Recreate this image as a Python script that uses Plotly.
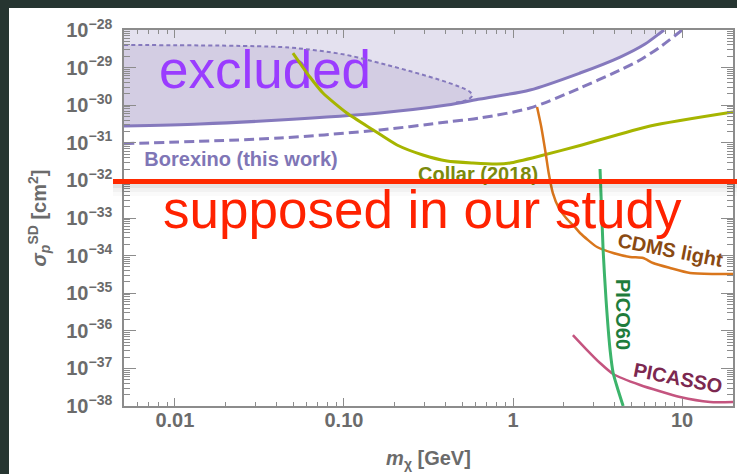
import plotly.graph_objects as go

# ---- data: dark-matter mass [GeV] vs spin-dependent proton cross-section [cm^2] ----
# Borexino (this work), solid limit
borexino_m = [0.005, 0.01406, 0.0418, 0.163, 0.407, 0.638, 1.26, 2.49, 4.30, 6.04, 7.41, 7.82]
borexino_s = [2.80e-31, 3.16e-31, 4.04e-31, 6.21e-31, 1.01e-30, 1.46e-30, 2.54e-30, 7.18e-30,
              1.91e-29, 4.25e-29, 8.32e-29, 1.0e-28]

# Borexino, dashed variant
borexino_dash_m = [0.005, 0.0418, 0.163, 0.407, 0.638, 1.26, 2.49, 4.30, 5.64, 7.41, 10.0]
borexino_dash_s = [9.5e-32, 1.34e-31, 2.19e-31, 3.57e-31, 4.57e-31, 8.43e-31, 2.86e-30, 8.63e-30,
                   1.59e-29, 3.53e-29, 1.0e-28]

# Borexino, dotted (upper edge of the inner region)
borexino_dot_m = [0.005, 0.0418, 0.0656, 0.104, 0.163, 0.256, 0.370, 0.486, 0.557, 0.572, 0.534, 0.442]
borexino_dot_s = [3.99e-29, 3.53e-29, 2.94e-29, 2.16e-29, 1.32e-29, 7.64e-30, 4.68e-30, 3.05e-30,
                  2.24e-30, 1.76e-30, 1.37e-30, 1.15e-30]

# Collar (2018)
collar_m = [0.0499, 0.0629, 0.0751, 0.104, 0.149, 0.206, 0.293, 0.407, 0.579, 0.803, 0.959, 1.44,
            2.49, 6.47, 20.0]
collar_s = [2.44e-29, 5.62e-30, 2.11e-30, 6.21e-31, 2.19e-31, 8.73e-32, 4.74e-32, 3.28e-32, 2.90e-32,
            2.73e-32, 2.90e-32, 4.46e-32, 8.47e-32, 2.80e-31, 6.6e-31]

# CDMS light
cdms_m = [1.387, 1.47, 1.56, 1.63, 1.72, 1.86, 2.06, 2.33, 2.49, 3.14, 3.91, 4.92, 5.88, 6.73, 8.49,
          11.15, 15.24, 20.0]
cdms_s = [8.95e-31, 2.6e-31, 5.2e-32, 1.45e-32, 4.6e-33, 1.9e-33, 1.0e-33, 5.6e-34, 3.99e-34, 1.69e-34,
          1.17e-34, 9.18e-35, 8.63e-35, 6.35e-35, 4.68e-35, 3.44e-35, 3.24e-35, 3.24e-35]

# PICO60
pico_m = [3.27, 3.41, 3.55, 3.75, 3.91, 4.18, 4.48]
pico_s = [2.01e-32, 1.41e-34, 6.59e-36, 3.08e-37, 7.55e-38, 2.67e-38, 1.0e-38]

# PICASSO
picasso_m = [2.26, 2.74, 3.27, 3.91, 5.64, 9.72, 14.66, 20.0]
picasso_s = [7.72e-37, 3.08e-37, 1.39e-37, 7.10e-38, 3.62e-38, 1.73e-38, 1.28e-38, 1.28e-38]

# study assumption
sigma_assumed = 1e-32

# axis ticks
x_tickvals = [0.01, 0.1, 1, 10]
x_ticktext = ["0.01", "0.10", "1", "10"]
y_exponents = list(range(-38, -27))

# ---- styling ----
FONT = "Liberation Sans"
GREY = "#6b6b6b"
AXIS = "#8c8c8c"
PURPLE = "#8579bd"
LIGHT_FILL = "#e4e1ef"
DARK_FILL = "#d3cde3"
COLLAR = "#a6b500"
CDMS = "#d9761c"
PICO = "#3cb46b"
PICASSO = "#c4547f"
RED = "#ff2a00"
BG_DARK = "#263531"

W, H = 737, 474
ML, MR, MT, MB = 124, 4, 30, 68
PW, PH = W - ML - MR, H - MT - MB


def px_x(p):
    return (p - ML) / PW


def px_y(p):
    return (H - MB - p) / PH


fig = go.Figure()

# light excluded region: between the top edge and the solid Borexino limit
fig.add_trace(go.Scatter(x=[0.005, 20], y=[1e-28, 1e-28], mode="lines",
                         line=dict(width=0), hoverinfo="skip"))
fig.add_trace(go.Scatter(x=borexino_m, y=borexino_s, mode="lines",
                         line=dict(width=0, shape="spline", smoothing=0.8),
                         fill="tonexty", fillcolor=LIGHT_FILL, hoverinfo="skip"))

# darker inner region: between the solid limit and the dotted curve
inner_m = [m for m in borexino_m if m <= borexino_dot_m[-1]]
inner_s = borexino_s[:len(inner_m)]
fig.add_trace(go.Scatter(x=inner_m, y=inner_s, mode="lines",
                         line=dict(width=0, shape="spline", smoothing=0.8), hoverinfo="skip"))
fig.add_trace(go.Scatter(x=borexino_dot_m, y=borexino_dot_s, mode="lines",
                         line=dict(width=0, shape="spline"),
                         fill="tonexty", fillcolor=DARK_FILL, hoverinfo="skip"))

# "excluded" sits under the curves
fig.add_trace(go.Scatter(x=[10 ** -1.467], y=[10 ** -29.2], mode="text", text=["excluded"],
                         textfont=dict(family=FONT, size=53, color="#9a3cff"), hoverinfo="skip"))

# Borexino curves
fig.add_trace(go.Scatter(x=borexino_dot_m, y=borexino_dot_s, mode="lines",
                         line=dict(color=PURPLE, width=2, dash="4px,3px", shape="spline")))
fig.add_trace(go.Scatter(x=borexino_dash_m, y=borexino_dash_s, mode="lines",
                         line=dict(color=PURPLE, width=3, dash="10px,5px", shape="spline", smoothing=0.8)))
fig.add_trace(go.Scatter(x=borexino_m, y=borexino_s, mode="lines",
                         line=dict(color=PURPLE, width=3, shape="spline", smoothing=0.8)))

# other experiments
fig.add_trace(go.Scatter(x=collar_m, y=collar_s, mode="lines",
                         line=dict(color=COLLAR, width=3, shape="spline", smoothing=0.6)))
fig.add_trace(go.Scatter(x=cdms_m, y=cdms_s, mode="lines",
                         line=dict(color=CDMS, width=2.5, shape="spline", smoothing=0.6)))
fig.add_trace(go.Scatter(x=picasso_m, y=picasso_s, mode="lines",
                         line=dict(color=PICASSO, width=2.5, shape="spline", smoothing=0.6)))
fig.add_trace(go.Scatter(x=pico_m, y=pico_s, mode="lines",
                         line=dict(color=PICO, width=3, shape="spline", smoothing=0.6)))

# curve labels drawn beneath the red line
fig.add_trace(go.Scatter(x=[10 ** -1.609], y=[10 ** -31.484], mode="text", text=["Borexino (this work)"],
                         textfont=dict(family=FONT, size=20, color="#7f76b6", weight="bold"),
                         hoverinfo="skip"))
fig.add_trace(go.Scatter(x=[10 ** -0.207], y=[10 ** -31.88], mode="text", text=["Collar (2018)"],
                         textfont=dict(family=FONT, size=20, color="#7b8a0c", weight="bold"),
                         hoverinfo="skip"))

annotations = [
    dict(x=0.929, y=-33.851, text="CDMS light", textangle=11, showarrow=False,
         font=dict(family=FONT, size=20, color="#8a4a12", weight="bold")),
    dict(x=0.651, y=-35.553, text="PICO60", textangle=90, showarrow=False,
         font=dict(family=FONT, size=20, color="#1f7c3c", weight="bold")),
    dict(x=0.976, y=-37.255, text="PICASSO", textangle=11, showarrow=False,
         font=dict(family=FONT, size=20, color="#7c2850", weight="bold")),
    dict(x=-0.533, y=-32.787, text="supposed in our study", showarrow=False,
         font=dict(family=FONT, size=53, color="#ff2200")),
]

y_line = px_y(181.5)
shapes = [
    # dark surround
    dict(type="rect", xref="paper", yref="paper", x0=px_x(-20), x1=px_x(757), y0=px_y(8), y1=px_y(-20),
         fillcolor=BG_DARK, line=dict(width=0), layer="above"),
    dict(type="rect", xref="paper", yref="paper", x0=px_x(-20), x1=px_x(9), y0=px_y(494), y1=px_y(-20),
         fillcolor=BG_DARK, line=dict(width=0), layer="above"),
    # soft shadow under the red line
    dict(type="rect", xref="paper", yref="paper", x0=px_x(113), x1=px_x(740), y0=px_y(188),
         y1=px_y(183.5), fillcolor="rgba(0,0,0,0.10)", line=dict(width=0), layer="above"),
    dict(type="rect", xref="paper", yref="paper", x0=px_x(113), x1=px_x(740), y0=px_y(192),
         y1=px_y(188), fillcolor="rgba(0,0,0,0.05)", line=dict(width=0), layer="above"),
    dict(type="rect", xref="paper", yref="paper", x0=px_x(113), x1=px_x(740), y0=px_y(196),
         y1=px_y(192), fillcolor="rgba(0,0,0,0.02)", line=dict(width=0), layer="above"),
    # red line at the assumed cross-section
    dict(type="line", xref="paper", yref="paper", x0=px_x(113), x1=px_x(740), y0=y_line, y1=y_line,
         line=dict(color=RED, width=5), layer="above"),
]

tickfont = dict(family=FONT, size=20, color=GREY, weight="bold")

fig.update_layout(
    width=W, height=H,
    margin=dict(l=ML, r=MR, t=MT, b=MB, pad=0),
    paper_bgcolor="white", plot_bgcolor="white",
    showlegend=False,
    annotations=annotations,
    shapes=shapes,
    xaxis=dict(
        type="log", range=[-2.30103, 1.30103],
        tickmode="array", tickvals=x_tickvals, ticktext=x_ticktext,
        ticks="inside", ticklen=8, tickwidth=1.2, tickcolor=AXIS,
        minor=dict(ticks="inside", ticklen=4, tickwidth=1, tickcolor=AXIS, dtick="D1", showgrid=False),
        showline=True, linecolor=AXIS, linewidth=1.5, mirror="ticks",
        showgrid=False, zeroline=False, tickfont=tickfont, ticklabelstandoff=-5,
        title=dict(text="<i>m</i><sub>χ</sub> [GeV]", standoff=21,
                   font=dict(family=FONT, size=20, color=GREY, weight="bold")),
        automargin=False,
    ),
    yaxis=dict(
        type="log", range=[-38, -28],
        tickmode="array", tickvals=[10.0 ** e for e in y_exponents],
        ticktext=["10<sup>−%d</sup>" % (-e) for e in y_exponents],
        ticks="inside", ticklen=12, tickwidth=1.2, tickcolor=AXIS,
        minor=dict(ticks="inside", ticklen=6, tickwidth=1, tickcolor=AXIS, dtick="D1", showgrid=False),
        showline=True, linecolor=AXIS, linewidth=1.5, mirror="ticks",
        showgrid=False, zeroline=False, tickfont=tickfont, ticklabelstandoff=6,
        title=dict(text="<i>σ</i><sub><i>p</i></sub><sup>SD</sup> [cm<sup>2</sup>]", standoff=14,
                   font=dict(family=FONT, size=20, color=GREY, weight="bold")),
        automargin=False,
    ),
)

fig.write_html("out.html")
